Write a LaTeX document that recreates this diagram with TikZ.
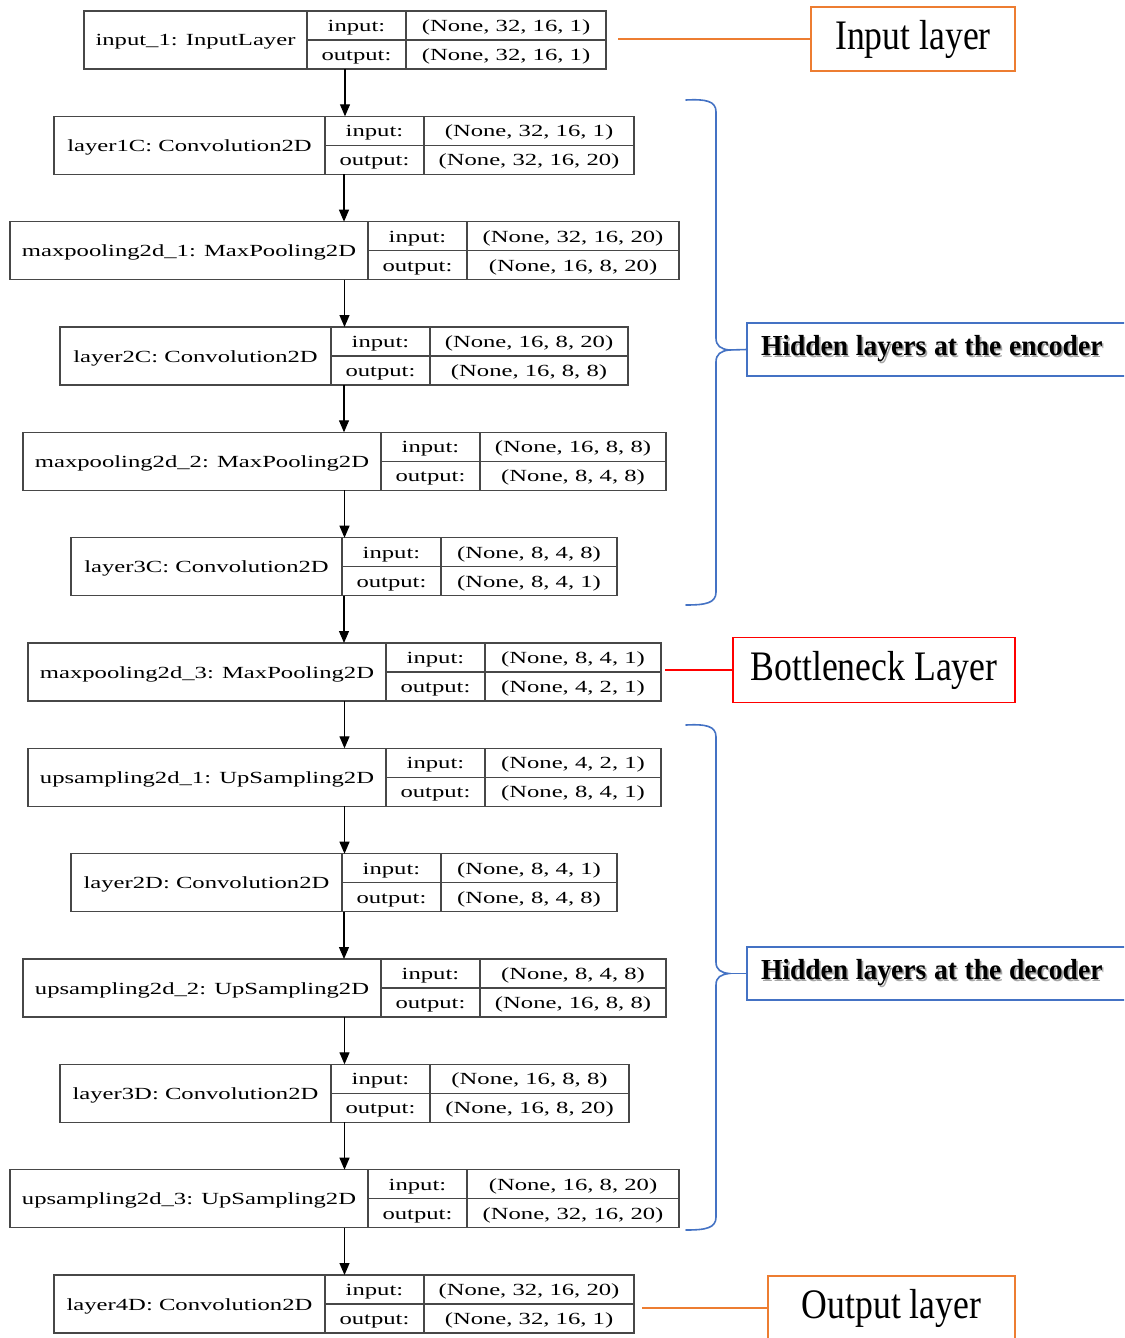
\documentclass[tikz,border=0pt]{standalone}
\usepackage{fontspec}
\setmainfont{Liberation Serif}
\usepackage{graphicx}
\usetikzlibrary{arrows.meta,calc}

\definecolor{accorange}{HTML}{ED7D31}
\definecolor{accblue}{HTML}{4472C4}
\definecolor{accred}{HTML}{FF0000}

% text helpers
\newcommand\cellfont{\fontsize{17}{19}\selectfont}
\newcommand\stretchx[1]{\scalebox{1.45}[1]{#1}}
\newcommand\biglab[1]{{\fontsize{42}{44}\selectfont\scalebox{0.85}[1]{#1}}}
\newcommand\shadowtext[1]{\scalebox{0.95}[1]{\fontsize{29}{31}\selectfont\bfseries\spaceskip=0.28em\relax #1}}
\newcommand\shadowed[1]{%
  \rlap{\hspace{1.6pt}\raisebox{-1.6pt}{\color{black!35}\shadowtext{#1}}}\shadowtext{#1}}

\tikzset{
  layer/.style={draw=black!72, line width=1.3pt, minimum height=58pt, inner sep=0pt, outer sep=0pt},
  cellline/.style={draw=black!72, line width=1.1pt},
  cell/.style={inner sep=0pt, font=\cellfont, anchor=base},
  flow/.style={draw=black, line width=1.2pt, -{Triangle[width=10pt,length=12pt]}},
  tag/.style={line width=1.4pt, inner sep=0pt, outer sep=0pt, fill=white},
  bracket/.style={draw=accblue, line width=1.6pt, line cap=round},
}

% one record: name, top, left, divider 1, divider 2, right, title, input shape, output shape
\newcommand\layerbox[9]{%
  \pgfmathsetmacro\lbw{#6-#3}%
  \pgfmathsetmacro\lbmid{#2+29}%
  \pgfmathsetmacro\lbbot{#2+58}%
  \pgfmathsetmacro\lbya{#2+20.5}%
  \pgfmathsetmacro\lbyb{#2+49.5}%
  \pgfmathsetmacro\lbyt{#2+35}%
  \pgfmathsetmacro\lbxt{(#3+#4)/2}%
  \pgfmathsetmacro\lbxl{(#4+#5)/2}%
  \pgfmathsetmacro\lbxv{(#5+#6)/2}%
  \node[layer, minimum width=\lbw pt, anchor=north west] (#1) at (#3,#2) {};
  \draw[cellline] (#4,#2) -- (#4,\lbbot);
  \draw[cellline] (#5,#2) -- (#5,\lbbot);
  \draw[cellline] (#4,\lbmid) -- (#6,\lbmid);
  \node[cell] (#1-title) at (\lbxt,\lbyt) {\stretchx{#7}};
  \node[cell] (#1-inkey) at (\lbxl,\lbya) {\stretchx{input:}};
  \node[cell] (#1-outkey) at (\lbxl,\lbyb) {\stretchx{output:}};
  \node[cell] (#1-inval) at (\lbxv,\lbya) {\stretchx{#8}};
  \node[cell] (#1-outval) at (\lbxv,\lbyb) {\stretchx{#9}};
}

\begin{document}
\begin{tikzpicture}[x=1pt, y=-1pt]
\useasboundingbox (0,0) rectangle (1124,1338);
\clip (0,0) rectangle (1124,1338);
\fill[white] (0,0) rectangle (1124,1338);

% network records
\layerbox{L1}{11}{84}{307}{406}{606}{input\_1: InputLayer}{(None, 32, 16, 1)}{(None, 32, 16, 1)}
\layerbox{L2}{116.3}{54}{325}{424}{634}{layer1C: Convolution2D}{(None, 32, 16, 1)}{(None, 32, 16, 20)}
\layerbox{L3}{221.7}{10}{368}{467}{679}{maxpooling2d\_1: MaxPooling2D}{(None, 32, 16, 20)}{(None, 16, 8, 20)}
\layerbox{L4}{327}{60}{331}{430}{628}{layer2C: Convolution2D}{(None, 16, 8, 20)}{(None, 16, 8, 8)}
\layerbox{L5}{432.3}{23}{381}{480}{666}{maxpooling2d\_2: MaxPooling2D}{(None, 16, 8, 8)}{(None, 8, 4, 8)}
\layerbox{L6}{537.7}{71}{342}{441}{617}{layer3C: Convolution2D}{(None, 8, 4, 8)}{(None, 8, 4, 1)}
\layerbox{L7}{643}{28}{386}{485}{661}{maxpooling2d\_3: MaxPooling2D}{(None, 8, 4, 1)}{(None, 4, 2, 1)}
\layerbox{L8}{748.3}{28}{386}{485}{661}{upsampling2d\_1: UpSampling2D}{(None, 4, 2, 1)}{(None, 8, 4, 1)}
\layerbox{L9}{853.7}{71}{342}{441}{617}{layer2D: Convolution2D}{(None, 8, 4, 1)}{(None, 8, 4, 8)}
\layerbox{L10}{959}{23}{381}{480}{666}{upsampling2d\_2: UpSampling2D}{(None, 8, 4, 8)}{(None, 16, 8, 8)}
\layerbox{L11}{1064.3}{60}{331}{430}{629}{layer3D: Convolution2D}{(None, 16, 8, 8)}{(None, 16, 8, 20)}
\layerbox{L12}{1169.7}{10}{368}{467}{679}{upsampling2d\_3: UpSampling2D}{(None, 16, 8, 20)}{(None, 32, 16, 20)}
\layerbox{L13}{1275}{54}{325}{424}{634}{layer4D: Convolution2D}{(None, 32, 16, 20)}{(None, 32, 16, 1)}

% data flow
\foreach \a/\b in {L1/L2,L2/L3,L3/L4,L4/L5,L5/L6,L6/L7,L7/L8,L8/L9,L9/L10,L10/L11,L11/L12,L12/L13}
  \draw[flow] (\a.south) -- (\a.south |- \b.north);

% annotations
\node[tag, draw=accorange, minimum width=204pt, minimum height=64pt] (inlab) at (913,39) {\biglab{Input layer}};
\draw[accorange, line width=1.4pt] ($(L1.east |- inlab.west)+(12,0)$) -- (inlab.west);

\node[tag, draw=accred, minimum width=282pt, minimum height=65pt] (botlab) at (874,670) {\biglab{Bottleneck Layer}};
\draw[accred, line width=1.5pt] ($(L7.east |- botlab.west)+(4,0)$) -- (botlab.west);

\node[tag, draw=accorange, minimum width=247pt, minimum height=64pt] (outlab) at (891.5,1308) {\biglab{Output layer}};
\draw[accorange, line width=1.4pt] ($(L13.east |- outlab.west)+(8,0)$) -- (outlab.west);

\node[tag, draw=accblue, anchor=west, text width=370pt, align=left, inner xsep=14pt, minimum height=53pt] (enclab) at (747,349.5) {\shadowed{Hidden layers at the encoder}};
\node[tag, draw=accblue, anchor=west, text width=370pt, align=left, inner xsep=14pt, minimum height=53pt] (declab) at (747,973.5) {\shadowed{Hidden layers at the decoder}};

% braces grouping the hidden layers
\coordinate (enctip) at (729,350);
\draw[bracket] (686,100) .. controls (706,99) and (716,101) .. (716,112) -- (716,338)
  .. controls (716,346) and (721,349) .. (enctip)
  .. controls (721,351) and (716,354) .. (716,362) -- (716,592)
  .. controls (716,603) and (706,605) .. (686,605);
\draw[accblue, line width=1.6pt] (enctip) -- (enclab.west);

\coordinate (dectip) at (729,973.5);
\draw[bracket] (686,725) .. controls (706,724) and (716,726) .. (716,737) -- (716,962)
  .. controls (716,970) and (721,972.5) .. (dectip)
  .. controls (721,974.5) and (716,977) .. (716,985) -- (716,1217)
  .. controls (716,1228) and (706,1230) .. (686,1230);
\draw[accblue, line width=1.6pt] (dectip) -- (declab.west);
\end{tikzpicture}
\end{document}
